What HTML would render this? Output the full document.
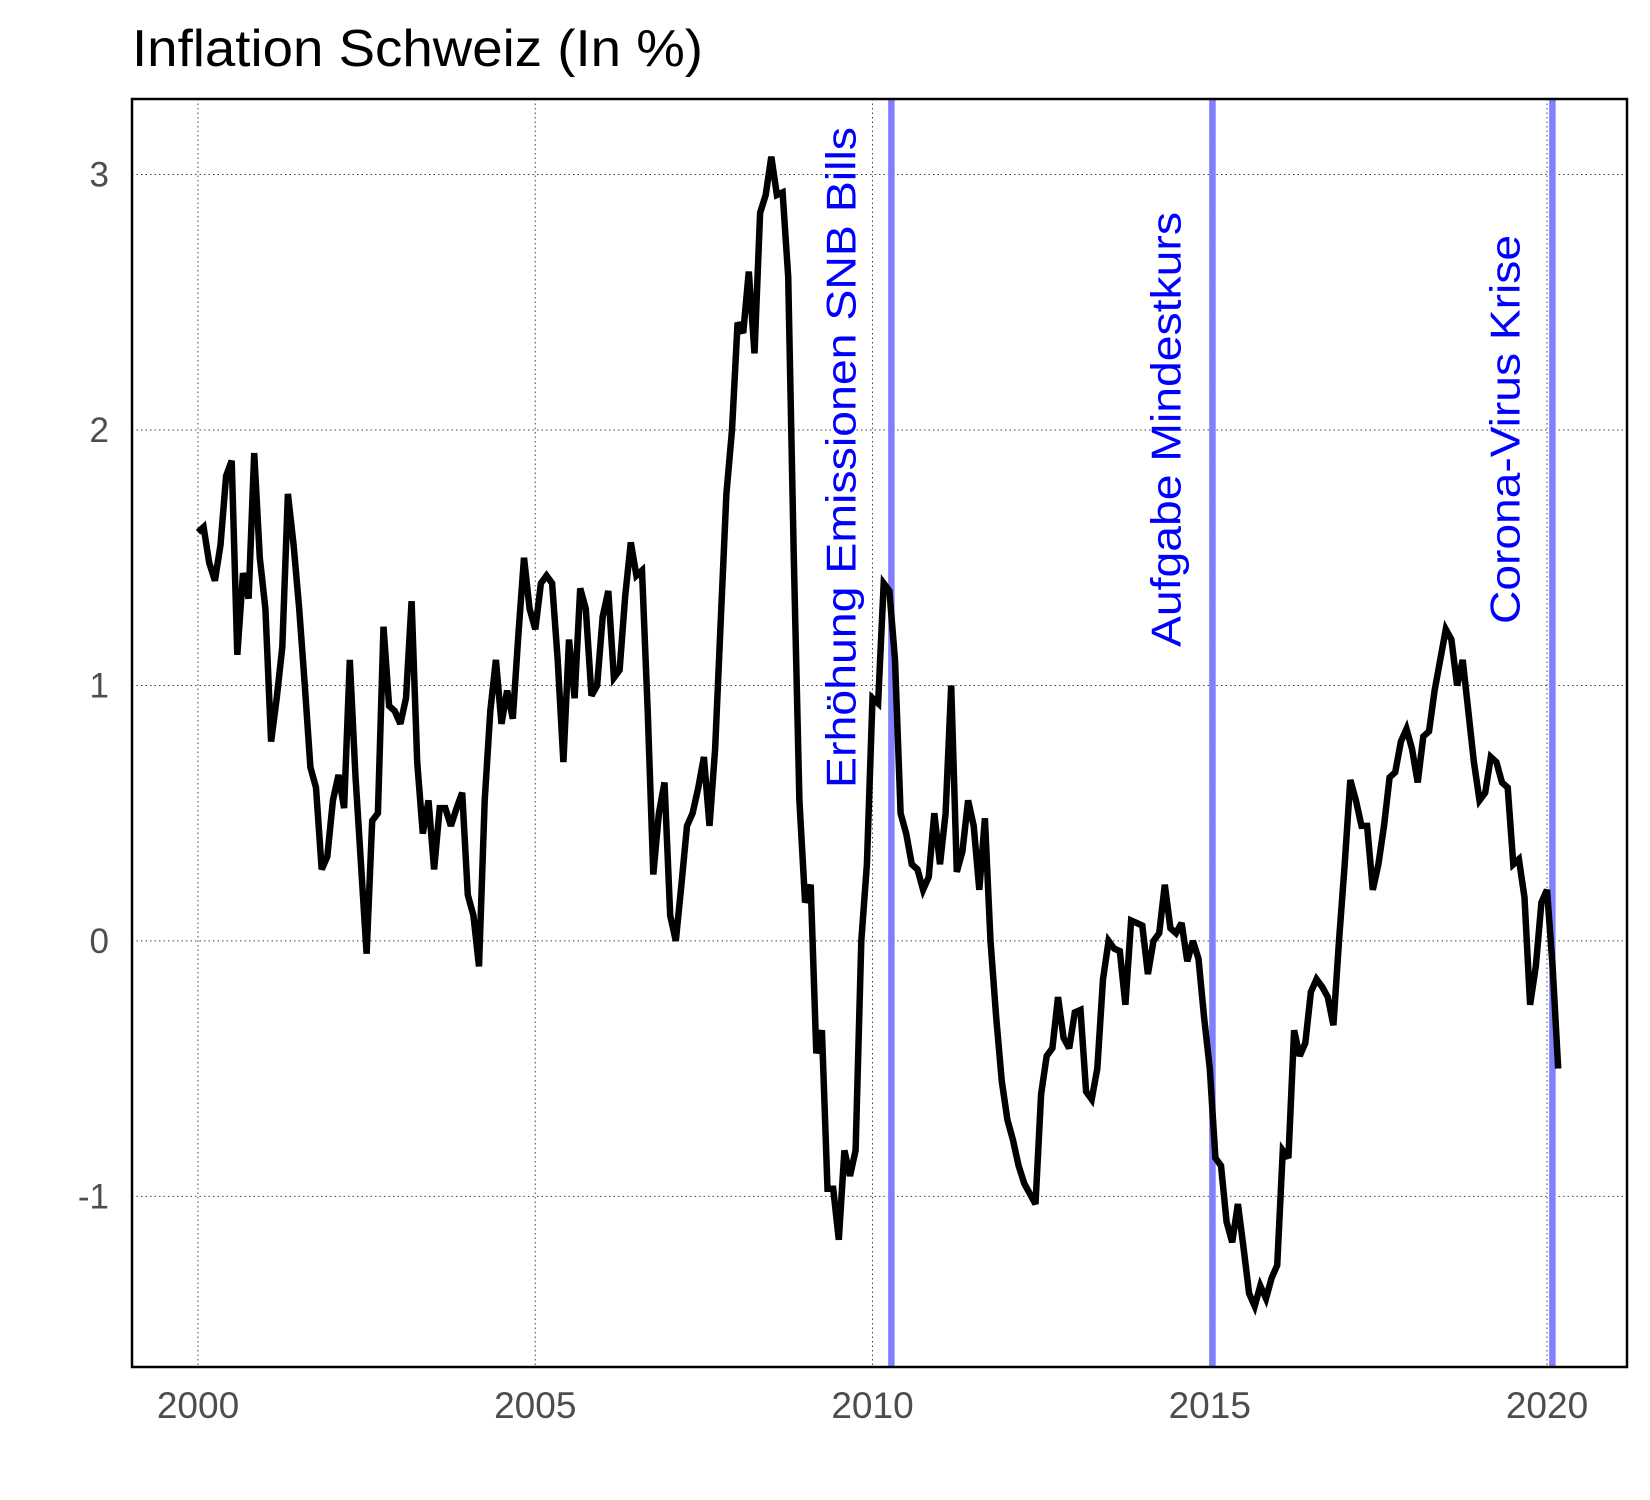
<!DOCTYPE html>
<html><head><meta charset="utf-8"><style>
html,body{margin:0;padding:0;background:#fff;}
svg{display:block;font-family:"Liberation Sans",Arial,sans-serif;}
</style></head><body>
<svg id="chart" width="1650" height="1500" viewBox="0 0 1650 1500" xmlns="http://www.w3.org/2000/svg">
<text x="132" y="66" font-size="52" fill="#000" textLength="571" lengthAdjust="spacingAndGlyphs">Inflation Schweiz (In %)</text>
<g id="grid"></g>
<g id="events"></g>
<g id="series"></g>
<rect x="132" y="99" width="1495" height="1268" fill="none" stroke="#000" stroke-width="2.5"/>
<g id="axes"></g>
</svg>
<script>
const startYear = 2000;
const inflation = [
1.6,1.62,1.48,1.41,1.55,1.82,1.88,1.12,1.44,1.34,1.91,1.5,
1.3,0.78,0.95,1.15,1.75,1.55,1.3,1.0,0.68,0.6,0.28,0.33,
0.55,0.65,0.52,1.1,0.65,0.3,-0.05,0.47,0.5,1.23,0.92,0.9,
0.85,0.95,1.33,0.7,0.42,0.55,0.28,0.52,0.52,0.45,0.52,0.58,
0.18,0.1,-0.1,0.55,0.9,1.1,0.85,0.98,0.87,1.2,1.5,1.3,
1.22,1.4,1.43,1.4,1.1,0.7,1.18,0.95,1.38,1.3,0.96,1.0,
1.27,1.37,1.03,1.06,1.35,1.56,1.43,1.45,0.9,0.26,0.5,0.62,
0.1,0.0,0.22,0.45,0.5,0.6,0.72,0.45,0.75,1.25,1.75,2.0,
2.42,2.38,2.62,2.3,2.85,2.92,3.07,2.92,2.93,2.6,1.5,0.55,
0.15,0.22,-0.44,-0.35,-0.97,-0.97,-1.17,-0.82,-0.92,-0.82,0.0,0.3,
0.95,0.93,1.4,1.37,1.1,0.5,0.42,0.3,0.28,0.2,0.25,0.5,
0.3,0.5,1.0,0.27,0.35,0.55,0.45,0.2,0.48,0.0,-0.3,-0.55,
-0.7,-0.78,-0.88,-0.95,-0.99,-1.03,-0.6,-0.45,-0.42,-0.22,-0.38,-0.42,
-0.28,-0.27,-0.59,-0.62,-0.5,-0.15,0.0,-0.03,-0.04,-0.25,0.08,0.07,
0.06,-0.13,0.0,0.03,0.22,0.05,0.03,0.07,-0.08,0.0,-0.07,-0.3,
-0.5,-0.85,-0.88,-1.1,-1.18,-1.03,-1.2,-1.38,-1.43,-1.35,-1.4,-1.32,
-1.27,-0.82,-0.85,-0.35,-0.45,-0.4,-0.2,-0.15,-0.18,-0.22,-0.33,0.0,
0.3,0.63,0.55,0.45,0.45,0.2,0.3,0.45,0.64,0.66,0.78,0.83,
0.75,0.62,0.8,0.82,0.98,1.1,1.22,1.18,1.0,1.1,0.9,0.7,
0.55,0.58,0.72,0.7,0.62,0.6,0.3,0.32,0.17,-0.25,-0.1,0.15,
0.2,-0.1,-0.5
];
const xTicks = [2000,2005,2010,2015,2020];
const yTicks = [3,2,1,0,-1];
const eventYears = [2010.28,2015.04,2020.08];
const eventLabels = ["Erhöhung Emissionen SNB Bills","Aufgabe Mindestkurs","Corona-Virus Krise"];

const NS="http://www.w3.org/2000/svg";
const X0=132,X1=1627,Y0=99,Y1=1367;
function xs(year){return 198+(year-2000)*67.45;}
function ys(v){return 940.9-v*255.45;}
function mk(tag,attrs,parent){const e=document.createElementNS(NS,tag);for(const k in attrs)e.setAttribute(k,attrs[k]);parent.appendChild(e);return e;}
const grid=document.getElementById('grid'),axes=document.getElementById('axes'),ev=document.getElementById('events'),ser=document.getElementById('series');

xTicks.forEach(t=>{
  const l=mk('line',{x1:xs(t),x2:xs(t),y1:Y0,y2:Y1,stroke:'#444','stroke-width':1,'stroke-dasharray':'1.5,3'},grid);
  
  
  const tx=mk('text',{x:xs(t),y:1418,'font-size':37,fill:'#4d4d4d','text-anchor':'middle'},axes);
  tx.textContent=t;
  
  
});
yTicks.forEach(t=>{
  const l=mk('line',{x1:X0,x2:X1,y1:ys(t),y2:ys(t),stroke:'#444','stroke-width':1,'stroke-dasharray':'1.5,3'},grid);
  
  
  const tx=mk('text',{x:109,y:ys(t)+12,'font-size':35,fill:'#4d4d4d','text-anchor':'end'},axes);
  tx.textContent=t;
  
  
});
const labelPos=[[841,788,661],[1166,647,435],[1505,624,389]];
eventYears.forEach((y,i)=>{
  const l=mk('line',{x1:xs(y),x2:xs(y),y1:Y0,y2:Y1,stroke:'#8080ff','stroke-width':6.5},ev);
  
  
  const p=labelPos[i];
  const tx=mk('text',{x:0,y:0,'font-size':42,fill:'#0000ff','dominant-baseline':'central',textLength:p[2],lengthAdjust:'spacingAndGlyphs',transform:`translate(${p[0]},${p[1]}) rotate(-90)`},ev);
  tx.textContent=eventLabels[i];
  
  
});
const pts=inflation.map((v,i)=>xs(startYear+i/12).toFixed(1)+','+ys(v).toFixed(1)).join(' ');
const pl=mk('polyline',{points:pts,fill:'none',stroke:'#000','stroke-width':6.5,'stroke-linejoin':'miter','stroke-miterlimit':3},ser);


</script>
</body></html>
